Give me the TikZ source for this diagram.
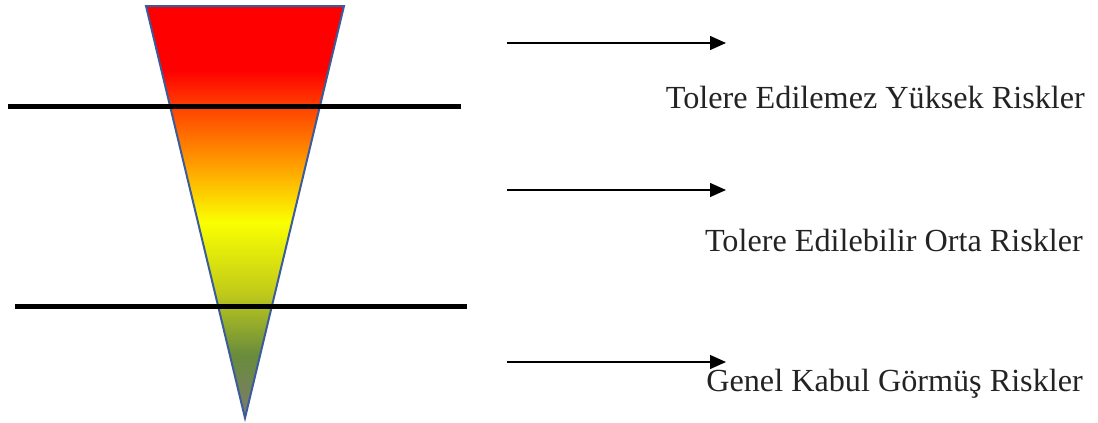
\documentclass[tikz,border=0pt]{standalone}
\usepackage{fontspec}
\setmainfont{Liberation Serif}
\usetikzlibrary{arrows.meta}
\definecolor{edgeblue}{RGB}{58,92,155}
\definecolor{txt}{RGB}{35,35,35}
\definecolor{cRed}{RGB}{255,0,0}
\definecolor{cOrRed}{RGB}{255,70,0}
\definecolor{cOrange}{RGB}{255,160,0}
\definecolor{cYellow}{RGB}{250,255,0}
\definecolor{cYG}{RGB}{195,205,25}
\definecolor{cOlive}{RGB}{105,140,60}
\definecolor{cGray}{RGB}{125,122,110}
\pgfdeclareverticalshading{riskshade}{100bp}{
  color(0bp)=(cGray); color(25bp)=(cGray); color(32.6bp)=(cOlive);
  color(40.5bp)=(cYG); color(48.8bp)=(cYellow); color(55.6bp)=(cOrange);
  color(62.4bp)=(cOrRed); color(67.2bp)=(cRed); color(75bp)=(cRed); color(100bp)=(cRed)}
\tikzset{
  sepline/.style={line width=5pt, black},
  riskarrow/.style={line width=1.3pt, black, -{Triangle[length=16pt,width=14pt]}},
  risklabel/.style={anchor=base east, inner sep=0pt, text=txt, font=\fontsize{32.2}{37}\selectfont},
  cone/.style={draw=edgeblue, line width=2pt, shading=riskshade}
}
\begin{document}
\begin{tikzpicture}[x=1pt,y=-1pt]
\useasboundingbox (0,0) rectangle (1098,423);
% cone
\coordinate (tl) at (146,6);
\coordinate (tr) at (344,6);
\coordinate (ap) at (245,418);
\path[cone] (tl) -- (tr) -- (ap) -- cycle;
% separating lines
\coordinate (l1a) at (8,106);
\coordinate (l1b) at (461,106);
\coordinate (l2a) at (15,306);
\coordinate (l2b) at (467,306);
\draw[sepline] (l1a) -- (l1b);
\draw[sepline] (l2a) -- (l2b);
% arrows
\coordinate (a1s) at (507,43);
\coordinate (a1e) at (726,43);
\coordinate (a2s) at (507,190);
\coordinate (a2e) at (726,190);
\coordinate (a3s) at (507,362);
\coordinate (a3e) at (726,362);
\draw[riskarrow] (a1s) -- (a1e);
\draw[riskarrow] (a2s) -- (a2e);
\draw[riskarrow] (a3s) -- (a3e);
% labels
\node[risklabel] (t1) at (1085,108) {Tolere Edilemez Yüksek Riskler};
\node[risklabel] (t2) at (1083,251) {Tolere Edilebilir Orta Riskler};
\node[risklabel] (t3) at (1083,391) {Genel Kabul Görmüş Riskler};
\end{tikzpicture}
\end{document}
